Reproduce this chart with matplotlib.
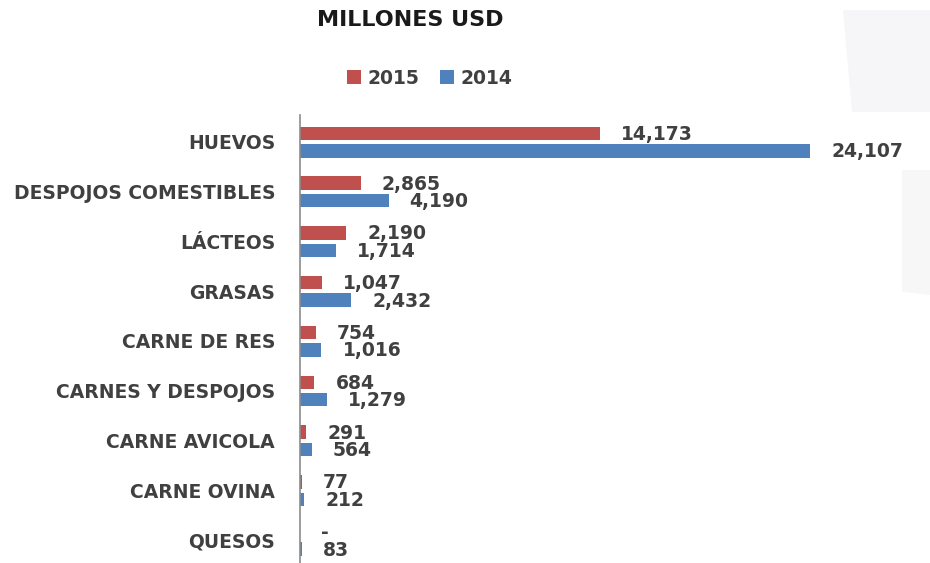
import matplotlib
matplotlib.use("Agg")
import matplotlib.pyplot as plt
from matplotlib.patches import Polygon
import numpy as np

# Import values, millions of USD
categorias = ["HUEVOS", "DESPOJOS COMESTIBLES", "LÁCTEOS", "GRASAS",
              "CARNE DE RES", "CARNES Y DESPOJOS", "CARNE AVICOLA",
              "CARNE OVINA", "QUESOS"]
valores_2015 = [14173, 2865, 2190, 1047, 754, 684, 291, 77, 0]
valores_2014 = [24107, 4190, 1714, 2432, 1016, 1279, 564, 212, 83]
etiquetas_2015 = ["14,173", "2,865", "2,190", "1,047", "754", "684", "291", "77", "-"]
etiquetas_2014 = ["24,107", "4,190", "1,714", "2,432", "1,016", "1,279", "564", "212", "83"]

ROJO = "#C0504D"
AZUL = "#4F81BD"
TEXTO = "#404040"

plt.rcParams["font.family"] = ["DejaVu Sans"]
plt.rcParams["font.weight"] = "bold"

fig = plt.figure(figsize=(9.3, 5.63), dpi=100)

# faint slide decoration on the right edge
fondo = fig.add_axes([0, 0, 1, 1], zorder=-5)
fondo.set_xlim(0, 930)
fondo.set_ylim(563, 0)
fondo.axis("off")
fondo.add_patch(Polygon([[843, 10], [930, 10], [930, 112], [852, 112]],
                        closed=True, color="#F6F6F8", lw=0))
fondo.add_patch(Polygon([[878, 170], [930, 170], [930, 295], [862, 287]],
                        closed=True, color="#F7F7F7", lw=0))

ax = fig.add_axes([300 / 930, 0, 602 / 930, 448 / 563])
y = np.arange(len(categorias))
alto = 0.27

b15 = ax.barh(y - 0.17, valores_2015, height=alto, color=ROJO, label="2015")
b14 = ax.barh(y + 0.18, valores_2014, height=alto, color=AZUL, label="2014")

for barras, etiquetas in ((b15, etiquetas_2015), (b14, etiquetas_2014)):
    for barra, txt in zip(barras, etiquetas):
        ax.annotate(txt, (barra.get_width(), barra.get_y() + barra.get_height() / 2),
                    xytext=(21, -1), textcoords="offset pixels",
                    ha="left", va="center", fontsize=13.5, color=TEXTO)

ax.set_xlim(0, 28450)
ax.set_ylim(len(categorias) - 0.54, -0.54)
ax.set_yticks(y)
ax.set_yticklabels(categorias, fontsize=13.5, color=TEXTO)
ax.tick_params(axis="y", length=0, pad=18)
ax.set_xticks([])
for lado in ("top", "right", "bottom"):
    ax.spines[lado].set_visible(False)
ax.spines["left"].set_color("#8C8C8C")
ax.spines["left"].set_linewidth(1.2)

fig.text(410 / 930, 1 - 20 / 563, "MILLONES USD", ha="center", va="center",
         fontsize=16, fontweight="bold", color="#1A1A1A")

fig.legend(handles=[b15, b14], loc="center", bbox_to_anchor=(430 / 930, 1 - 78 / 563),
           ncol=2, frameon=False, fontsize=13.5, handlelength=0.75, handleheight=0.75,
           handletextpad=0.35, columnspacing=1.1, labelcolor=TEXTO)

fig.savefig("out.png", dpi=100)
